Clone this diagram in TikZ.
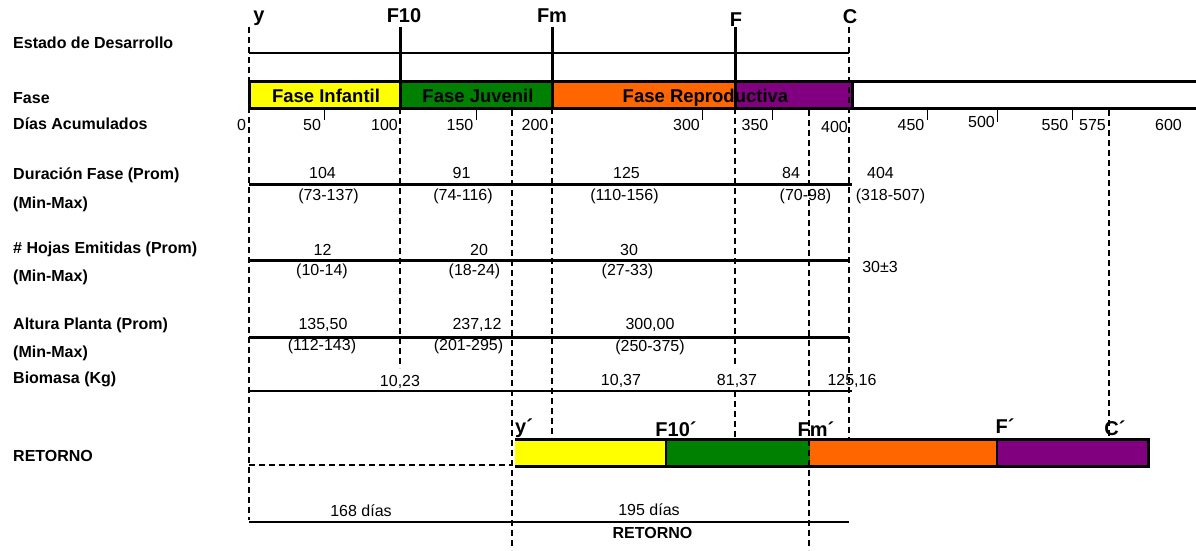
\documentclass[tikz,border=0pt]{standalone}
\usepackage{fontspec}
\setmainfont{Liberation Sans}
\definecolor{fyellow}{RGB}{255,255,0}
\definecolor{fgreen}{RGB}{0,128,0}
\definecolor{forange}{RGB}{255,102,0}
\definecolor{fpurple}{RGB}{128,0,128}
\begin{document}
\begin{tikzpicture}[x=1pt,y=-1pt,
  lbl/.style={anchor=base west, inner sep=0pt, font=\fontsize{16}{18}\selectfont\bfseries},
  val/.style={anchor=base, inner sep=0pt, font=\fontsize{16}{18}\selectfont},
  bval/.style={anchor=base, inner sep=0pt, font=\fontsize{16}{18}\selectfont\bfseries},
  stage/.style={anchor=base, inner sep=0pt, font=\fontsize{20}{22}\selectfont\bfseries},
  phase/.style={anchor=base, inner sep=0pt, font=\fontsize{18.5}{20}\selectfont\bfseries},
  rule/.style={line width=3pt},
  thinrule/.style={line width=2.3pt},
  guide/.style={line width=1.2pt, dash pattern=on 6pt off 4pt},
  tickmark/.style={line width=1pt},
  barline/.style={line width=3pt}
]
\useasboundingbox (0,0) rectangle (1196,550);

% ---- phase bar fills ----
\fill[fyellow] (249,81) rectangle (400,108);
\fill[fgreen]  (400,81) rectangle (552,108);
\fill[forange] (552,81) rectangle (735,108);
\fill[fpurple] (735,81) rectangle (852,108);

% ---- return bar fills ----
\fill[fyellow] (515,439) rectangle (666,466);
\fill[fgreen]  (666,439) rectangle (810,466);
\fill[forange] (810,439) rectangle (997,466);
\fill[fpurple] (997,439) rectangle (1148,466);

% ---- dashed guide lines ----
\draw[guide] (249,27) -- (249,520);
\draw[guide] (400,108) -- (400,368);
\draw[guide] (552,108) -- (552,434);
\draw[guide] (735,108) -- (735,364);
\draw[guide] (735,391) -- (735,438);
\draw[guide] (849,27) -- (849,438);
\draw[guide] (512,110) -- (512,550);
\draw[guide] (809,110) -- (809,550);
\draw[guide] (1109,110) -- (1109,440);
\draw[guide] (249,465) -- (512,465);

% ---- development stage line and stage markers ----
\draw[line width=2.5pt] (249,53) -- (849,53);
\draw[barline] (400,27) -- (400,108);
\draw[barline] (552,27) -- (552,108);
\draw[barline] (735,27) -- (735,108);

% ---- phase bar outline ----
\draw[barline] (1196,81) -- (249,81) -- (249,108) -- (1196,108);
\draw[barline] (852,81) -- (852,108);

% ---- return bar outline ----
\draw[barline] (515,439) -- (1148,439) -- (1148,466) -- (515,466);
\draw[line width=2.5pt] (666,439) -- (666,466);
\draw[line width=2.5pt] (997,439) -- (997,466);

% ---- day ticks ----
\foreach \tx in {324,476,702,772,927,1072}
  \draw[tickmark] (\tx,108) -- (\tx,120);
\draw[tickmark] (997,108) -- (997,122);

% ---- data rows ----
\draw[rule] (249,184) -- (852,184);
\draw[rule] (249,260) -- (849,260);
\draw[rule] (249,337) -- (849,337);
\draw[thinrule] (249,391) -- (852,391);
\draw[thinrule] (249,522) -- (849,522);

% ---- row labels ----
\node[lbl] (lEstado) at (13,48) {Estado de Desarrollo};
\node[lbl] (lFase) at (13,103) {Fase};
\node[lbl] (lDias) at (13,129) {Días Acumulados};
\node[lbl] (lDur) at (13,179) {Duración Fase (Prom)};
\node[lbl] (lDurR) at (13,208) {(Min-Max)};
\node[lbl] (lHoj) at (13,253) {\# Hojas Emitidas (Prom)};
\node[lbl] (lHojR) at (13,281) {(Min-Max)};
\node[lbl] (lAlt) at (13,329) {Altura Planta (Prom)};
\node[lbl] (lAltR) at (13,357) {(Min-Max)};
\node[lbl] (lBio) at (13,383) {Biomasa (Kg)};
\node[lbl] (lRet) at (13,461) {RETORNO};

% ---- stage labels ----
\node[stage] (sY) at (259,21) {y};
\node[stage] (sF10) at (404,22) {F10};
\node[stage] (sFm) at (552,22) {Fm};
\node[stage] (sF) at (736,26) {F};
\node[stage] (sC) at (850,23) {C};

% ---- phase names ----
\node[phase] (pInf) at (326,102) {Fase Infantil};
\node[phase] (pJuv) at (478,102) {Fase Juvenil};
\node[phase] (pRep) at (705.5,102) {Fase Reproductiva};

% ---- accumulated days ----
\node[val] (d0) at (241.5,130) {0};
\node[val] (d50) at (312,130) {50};
\node[val] (d100) at (384.5,130) {100};
\node[val] (d150) at (460,130) {150};
\node[val] (d200) at (535,130) {200};
\node[val] (d300) at (686.5,130) {300};
\node[val] (d350) at (755,130) {350};
\node[val] (d400) at (834.5,132) {400};
\node[val] (d450) at (911,130) {450};
\node[val] (d500) at (981.5,127) {500};
\node[val] (d550) at (1055,130) {550};
\node[val] (d575) at (1092.5,130) {575};
\node[val] (d600) at (1168.5,130) {600};

% ---- phase duration ----
\node[val] (du1) at (322.5,178) {104};
\node[val] (du2) at (461.5,178) {91};
\node[val] (du3) at (626.5,178) {125};
\node[val] (du4) at (791,178) {84};
\node[val] (du5) at (880.5,178) {404};
\node[val] (dr1) at (328.5,200) {(73-137)};
\node[val] (dr2) at (463,200) {(74-116)};
\node[val] (dr3) at (624.5,200) {(110-156)};
\node[val] (dr4) at (805.5,200) {(70-98)};
\node[val] (dr5) at (890.5,200) {(318-507)};

% ---- leaves ----
\node[val] (h1) at (322.5,255) {12};
\node[val] (h2) at (479,255) {20};
\node[val] (h3) at (629,255) {30};
\node[val] (h4) at (880,272) {30±3};
\node[val] (hr1) at (322,275) {(10-14)};
\node[val] (hr2) at (474.5,275) {(18-24)};
\node[val] (hr3) at (627.5,275) {(27-33)};

% ---- plant height ----
\node[val] (a1) at (323,329) {135,50};
\node[val] (a2) at (477,329) {237,12};
\node[val] (a3) at (650,329) {300,00};
\node[val] (ar1) at (322,350) {(112-143)};
\node[val] (ar2) at (468.5,350) {(201-295)};
\node[val] (ar3) at (650,351) {(250-375)};

% ---- biomass ----
\node[val] (b1) at (400,386) {10,23};
\node[val] (b2) at (621,385) {10,37};
\node[val] (b3) at (737,385) {81,37};
\node[val] (b4) at (852,385) {125,16};

% ---- return stage labels ----
\node[stage, anchor=base west] (rY) at (515,433) {y´};
\node[stage] (rF10) at (676,436) {F10´};
\node[stage] (rFm) at (816,436) {Fm´};
\node[stage] (rF) at (1005,433) {F´};
\node[stage] (rC) at (1115,435) {C´};

% ---- return durations ----
\node[val] (t1) at (361,516) {168 días};
\node[val] (t2) at (649,515) {195 días};
\node[bval] (t3) at (652.5,538) {RETORNO};
\end{tikzpicture}
\end{document}
